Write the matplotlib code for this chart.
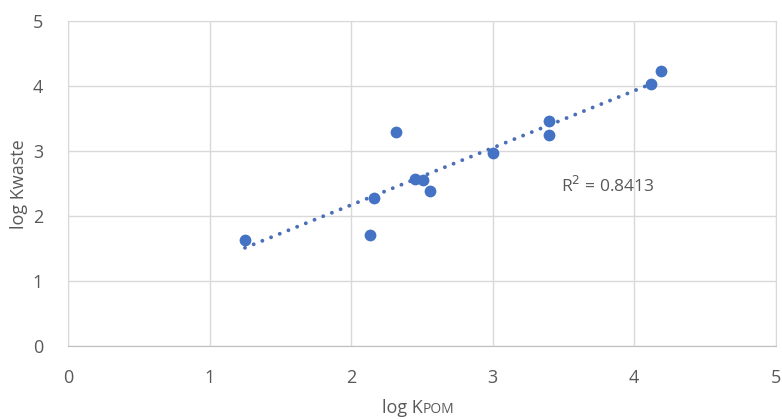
import numpy as np
import matplotlib.pyplot as plt

plt.rcParams['font.family'] = ['Open Sans', 'DejaVu Sans']

# log partition coefficients
log_kpom = [1.25, 2.13, 2.16, 2.32, 2.45, 2.51, 2.56, 3.00, 3.40, 3.40, 4.12, 4.19]
log_kwaste = [1.64, 1.71, 2.28, 3.30, 2.57, 2.56, 2.39, 2.97, 3.46, 3.25, 4.03, 4.23]
r2_label = 'R$^2$ = 0.8413'

blue = '#4472C4'
grey = '#595959'

fig = plt.figure(figsize=(7.82, 4.19), dpi=100)
ax = fig.add_axes([0.087, 0.1735, 0.905, 0.7765])

ax.scatter(log_kpom, log_kwaste, s=72, color=blue, zorder=3, linewidths=0)

# linear trendline
slope, intercept = np.polyfit(log_kpom, log_kwaste, 1)
xt = np.array([min(log_kpom), max(log_kpom)])
ax.plot(xt, slope * xt + intercept, color='#4a6fb8', lw=2.8,
        linestyle=(0, (0.01, 2.4)), dash_capstyle='round', zorder=2)

ax.text(3.48, 2.47, r2_label, fontsize=12.5, color=grey, va='center')

ax.set_xlim(0, 5)
ax.set_ylim(0, 5)
ax.set_xticks(range(6))
ax.set_yticks(range(6))
ax.grid(True, color='#d9d9d9', lw=1)
ax.set_axisbelow(True)
ax.tick_params(length=0, labelsize=13, labelcolor=grey)
ax.tick_params(axis='x', pad=16)
ax.tick_params(axis='y', pad=18)
for side in ['top', 'right', 'left']:
    ax.spines[side].set_color('#d9d9d9')
ax.spines['bottom'].set_color('#bfbfbf')

ax.set_ylabel('log Kwaste', fontsize=13, color=grey, labelpad=3)

# x label with small-caps subscript
ax.text(0.501, -0.205, 'log K', transform=ax.transAxes, ha='right', va='baseline',
        fontsize=13, color=grey)
ax.text(0.501, -0.205, 'POM', transform=ax.transAxes, ha='left', va='baseline',
        fontsize=10, color=grey)

fig.savefig('out.png', dpi=100)
